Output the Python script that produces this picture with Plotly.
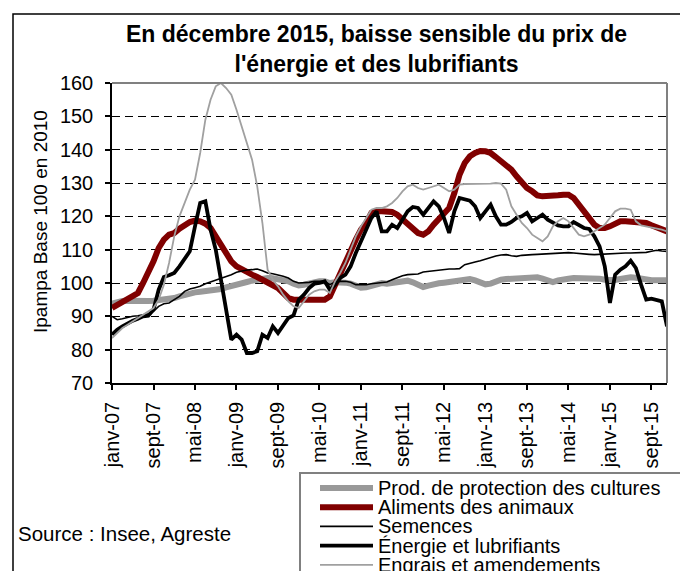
import plotly.graph_objects as go

FONT = "Liberation Sans, Arial, sans-serif"

MONTHS_FR = ["janv", "févr", "mars", "avr", "mai", "juin",
             "juil", "août", "sept", "oct", "nov", "déc"]
YEARS = ["07", "08", "09", "10", "11", "12", "13", "14", "15"]
MONTHS = [f"{m}-{y}" for y in YEARS for m in MONTHS_FR]

PROTECTION = [
    93.8, 94.3, 94.6, 94.7, 94.6, 94.5, 94.5, 94.6, 94.7, 94.8, 95.0, 95.2,
    95.5, 96.0, 96.5, 96.9, 97.2, 97.4, 97.5, 97.6, 97.8, 98.2, 98.7, 99.0,
    99.3, 99.8, 100.3, 100.7, 101.0, 101.3, 101.5, 101.4, 101.2, 100.8, 100.5, 99.8,
    99.3, 99.5, 99.9, 100.3, 100.5, 100.5, 100.0, 100.2, 100.3, 100.1, 99.8, 99.2,
    98.6, 98.7, 99.0, 99.5, 100.0, 99.8, 100.0, 100.3, 100.5, 100.7, 100.2, 99.5,
    98.8, 99.2, 99.7, 99.9, 100.1, 100.3, 100.5, 100.8, 101.0, 101.2, 100.8, 100.2,
    99.6, 99.8, 100.5, 101.0, 101.2, 101.3, 101.3, 101.3, 101.4, 101.6, 101.7, 101.3,
    100.6, 100.3, 100.8, 101.2, 101.3, 101.5, 101.5, 101.5, 101.5, 101.5, 101.3, 101.0,
    100.8, 100.9, 101.2, 101.6, 101.7, 101.6, 101.2, 101.0, 100.8, 100.8, 100.8, 100.8,
]

ALIMENTS = [
    92.5, 93.5, 94.5, 95.3, 96.0, 97.0, 100.0, 103.0, 106.5, 110.5, 113.0, 114.5,
    115.0, 116.3, 117.5, 118.3, 118.7, 118.5, 117.8, 116.5, 114.0, 111.5, 109.0, 106.5,
    105.0, 104.0, 103.0, 102.5, 101.8, 101.0, 100.5, 99.5, 98.5, 97.0, 95.5, 95.0,
    95.0, 95.0, 95.0, 95.0, 95.0, 95.0, 96.0, 99.5, 103.0, 107.0, 110.5, 113.0,
    116.0, 118.0, 121.0, 121.5, 121.5, 121.5, 121.3, 120.5, 119.0, 117.5, 116.0, 115.0,
    114.5, 115.5, 117.5, 119.0, 120.5, 122.5, 127.0, 132.5, 136.0, 138.0, 139.0, 139.6,
    139.5, 139.0, 137.8, 136.5, 135.5, 134.0, 132.0, 130.0, 128.5, 127.5, 126.3, 126.0,
    126.0, 126.0, 126.3, 126.5, 126.5, 125.5, 123.5, 121.5, 119.5, 117.5, 116.5, 116.5,
    117.0, 118.0, 118.5, 118.5, 118.3, 118.0, 118.0, 118.0, 117.3, 116.8, 116.0, 115.5,
]

SEMENCES = [
    90.0, 89.0, 89.3, 89.7, 90.0, 90.2, 90.5, 90.8, 91.5, 93.0, 93.8, 94.0,
    95.0, 96.0, 97.5, 98.2, 98.6, 99.0, 99.8, 100.3, 100.8, 101.3, 101.8, 102.5,
    103.2, 103.6, 103.9, 104.0, 104.2, 103.7, 103.0, 102.8, 102.5, 102.0, 101.5, 100.5,
    100.0, 100.0, 100.2, 100.5, 100.5, 100.5, 99.5, 100.3, 100.5, 100.5, 100.2, 99.5,
    99.5, 99.5, 99.8, 100.0, 100.2, 100.3, 101.0, 101.7, 102.2, 102.5, 102.5, 102.7,
    103.3, 103.5, 103.7, 103.8, 104.0, 104.2, 104.2, 104.3, 105.5, 106.0, 106.3, 106.7,
    107.2, 107.7, 108.1, 108.4, 108.5, 108.2, 108.0, 108.3, 108.5, 108.5, 108.6, 108.7,
    108.7, 108.8, 108.8, 109.0, 109.1, 109.0, 108.8, 108.7, 108.6, 108.5, 108.6, 108.8,
    108.8, 108.9, 109.0, 109.0, 109.0, 109.0, 109.0, 109.2, 109.5, 109.8, 109.6, 109.5,
]

ENERGIE = [
    84.5, 86.0, 87.0, 88.0, 88.7, 89.3, 90.0, 90.2, 92.0, 98.0, 101.8, 102.3,
    103.0, 105.0, 107.5, 109.5, 117.0, 124.0, 124.5, 116.0, 110.0, 100.5, 91.0, 83.0,
    84.5, 83.0, 79.0, 79.0, 79.5, 84.5, 83.5, 87.0, 85.0, 87.5, 89.5, 90.3,
    95.0, 96.5, 98.5, 99.8, 100.0, 100.5, 98.0, 99.5, 101.5, 102.5, 105.0, 109.0,
    112.5, 115.5, 119.5, 121.5, 115.5, 115.5, 117.5, 116.5, 119.0, 121.5, 122.8, 122.5,
    120.5, 122.5, 124.5, 123.0, 119.5, 115.0, 121.5, 125.5, 125.0, 124.7, 123.0, 119.5,
    121.5, 123.5, 120.0, 117.5, 117.5, 118.3, 119.5, 120.0, 121.0, 118.5, 119.5, 120.5,
    119.0, 118.0, 117.3, 117.0, 117.0, 118.3, 117.5, 116.5, 116.2, 114.0, 111.0, 105.0,
    94.0, 102.5, 104.0, 105.0, 106.7, 104.5, 99.5, 95.0, 95.3, 95.0, 94.5, 87.0,
]

ENGRAIS = [
    83.5, 85.0, 86.5, 87.5, 88.5, 89.5, 90.5, 91.5, 92.5, 95.0, 99.5, 106.0,
    114.0, 120.0, 124.0, 128.0, 131.0, 139.0, 149.0, 155.0, 159.0, 160.0, 158.5, 156.5,
    152.0, 147.0, 142.0, 137.0, 129.0, 118.0, 104.0, 101.0, 99.0, 96.5, 94.5, 93.0,
    92.5, 94.5, 96.5, 97.5, 98.0, 98.0, 97.0, 100.5, 103.0, 106.0, 110.0, 114.0,
    117.0, 119.5, 122.0, 122.5, 122.5, 123.0, 124.0, 125.5, 127.5, 129.0, 129.5, 128.5,
    128.0, 128.5, 129.0, 129.5, 128.5, 127.5, 128.0, 129.5, 129.7, 129.7, 129.7, 129.7,
    129.7, 129.8, 130.0, 129.8, 128.0, 123.0, 120.5, 118.0, 116.5, 114.5, 113.5, 112.5,
    114.0, 117.0, 118.5, 119.5, 118.5, 116.5, 114.5, 114.0, 114.5, 115.5, 116.5, 117.5,
    119.5, 121.5, 122.3, 122.3, 122.0, 118.5, 117.3, 117.0, 116.8, 116.5, 116.0, 115.5,
]

SERIES = [
    ("Prod. de protection des cultures", PROTECTION, "#999999", 6),
    ("Aliments des animaux", ALIMENTS, "#800000", 6),
    ("Semences", SEMENCES, "#000000", 1.6),
    ("Énergie et lubrifiants", ENERGIE, "#000000", 3.8),
    ("Engrais et amendements", ENGRAIS, "#a0a0a0", 1.8),
]

# plot area in page pixels: x 112..667, y 83..383
L, R, T, B = 112, 13, 83, 188
PW, PH = 680 - L - R, 571 - T - B


def px(x):
    return (x - L) / PW


def py(y):
    return (T + PH - y) / PH


fig = go.Figure()
for name, values, color, width in SERIES:
    fig.add_trace(go.Scatter(
        x=MONTHS, y=values, name=name, mode="lines",
        line=dict(color=color, width=width), showlegend=False,
    ))

fig.update_layout(
    width=680, height=571,
    margin=dict(l=L, r=R, t=T, b=B, autoexpand=False),
    paper_bgcolor="white", plot_bgcolor="white",
    font=dict(family=FONT, size=20, color="black"),
    showlegend=False,
)

fig.update_xaxes(
    type="category", range=[0, len(MONTHS) - 1],
    tickmode="array", tickvals=MONTHS[::8], ticktext=MONTHS[::8],
    tickangle=-90, ticks="outside", ticklen=5, tickcolor="black", tickwidth=1.5,
    showline=True, linecolor="black", linewidth=1.5,
    showgrid=False, ticklabelstandoff=4,
)
fig.update_yaxes(
    range=[70, 160], dtick=10, ticks="outside", ticklen=5, tickcolor="black", tickwidth=1.5,
    showline=True, linecolor="black", linewidth=1.5,
    showgrid=True, gridcolor="black", gridwidth=1, griddash="8px,5px",
    zeroline=False, ticklabelstandoff=8,
)

# plot-area frame (grey on top and right) and outer chart border
fig.add_shape(type="line", xref="paper", yref="paper", x0=0, x1=1, y0=1, y1=1,
              line=dict(color="#808080", width=2))
fig.add_shape(type="line", xref="paper", yref="paper", x0=1, x1=1, y0=0, y1=1,
              line=dict(color="#808080", width=2))
fig.add_shape(type="rect", xref="paper", yref="paper",
              x0=px(13), x1=px(720), y0=py(640), y1=py(14),
              line=dict(color="black", width=1.5), layer="below")

fig.add_annotation(
    text="<b>En décembre 2015, baisse sensible du prix de<br>l'énergie et des lubrifiants</b>",
    xref="paper", yref="paper", x=px(376), y=py(19), xanchor="center", yanchor="top",
    showarrow=False, font=dict(size=23),
)
fig.add_annotation(text="Ipampa Base 100 en 2010", xref="paper", yref="paper",
                   x=px(40), y=py(222), textangle=-90, showarrow=False,
                   font=dict(size=19), xanchor="center", yanchor="middle")
fig.add_annotation(text="Source : Insee, Agreste", xref="paper", yref="paper",
                   x=px(16), y=py(533), showarrow=False,
                   font=dict(size=20.5), xanchor="left", yanchor="middle")

# legend box, drawn by hand so the rows can sit as tightly as in the original
fig.add_shape(type="rect", xref="paper", yref="paper",
              x0=px(300), x1=px(720), y0=py(640), y1=py(473),
              line=dict(color="#808080", width=2), fillcolor="white")
for i, (name, values, color, width) in enumerate(SERIES):
    row = 488 + 19.2 * i
    fig.add_shape(type="line", xref="paper", yref="paper",
                  x0=px(320), x1=px(373), y0=py(row), y1=py(row),
                  line=dict(color=color, width=width))
    fig.add_annotation(text=name, xref="paper", yref="paper", x=px(376), y=py(row),
                       xanchor="left", yanchor="middle", showarrow=False,
                       font=dict(size=20))

fig.write_html("out.html", config={"displayModeBar": False},
               post_script="document.body.style.margin='0px';")
